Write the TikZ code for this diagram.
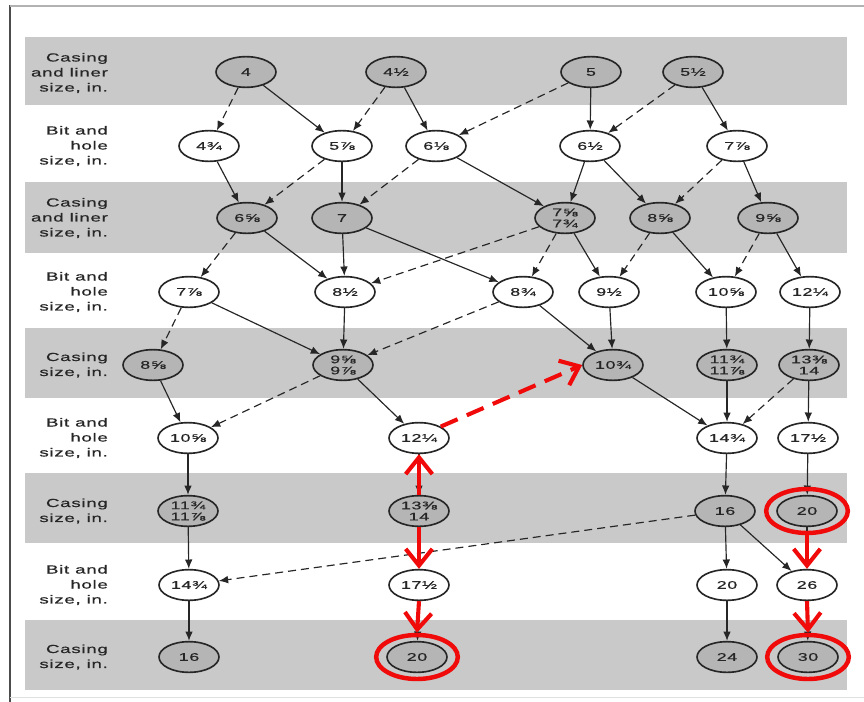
\documentclass[tikz,border=0pt]{standalone}
\usepackage{fontspec}
\setmainfont{Liberation Sans}
\newfontfamily\widefont[FakeStretch=1.6,LetterSpace=6,FakeBold=0.6]{Liberation Sans}
\usepackage{tikz}
\usetikzlibrary{arrows.meta,shapes.geometric}
\definecolor{bandgrey}{HTML}{C9C9C9}
\definecolor{nodegrey}{HTML}{B5B5B5}
\definecolor{inkgrey}{HTML}{262626}
\definecolor{markred}{HTML}{F00A0A}
\tikzset{
  sizebox/.style={ellipse,draw=inkgrey,line width=1.4pt,minimum width=1.8cm,minimum height=0.92cm,
    inner sep=0pt,align=center,text=inkgrey,font=\widefont\fontsize{9.5}{9.5}\selectfont},
  casing/.style={sizebox,fill=nodegrey},
  bit/.style={sizebox,fill=white},
  rowlab/.style={anchor=east,align=right,text=inkgrey,font=\widefont\fontsize{10}{12.8}\selectfont},
  fitline/.style={draw=inkgrey,line width=1pt,-{Latex[length=2.8mm,width=2.3mm]}},
  tightline/.style={fitline,dash pattern=on 2.4mm off 1.5mm},
  redpath/.style={draw=markred,line width=3.5pt,-{Straight Barb[length=5mm,width=8mm]}},
  redring/.style={ellipse,draw=markred,line width=3.8pt,minimum width=2.45cm,minimum height=1.32cm,inner sep=0pt}
}

\begin{document}
\begin{tikzpicture}[x=0.03cm,y=-0.03cm]
  \useasboundingbox (0,0) rectangle (864,702);
  % grey bands for the casing rows
  \foreach \t/\b in {37/105,182/253,328/398,473/543,620/690}{
     \fill[bandgrey] (25,\t) rectangle (847,\b);
  }
  \draw[black!70,line width=1.8pt] (10,5) -- (10,702);
  \draw[black!30,line width=1pt] (10,6) -- (864,6);
  \draw[black!12,line width=0.8pt] (10,697) -- (864,697);
  % row labels
  \node[rowlab] (lab1) at (112,73)  {Casing\\and liner\\size, in.};
  \node[rowlab] (lab2) at (112,146) {Bit and\\hole\\size, in.};
  \node[rowlab] (lab3) at (112,218) {Casing\\and liner\\size, in.};
  \node[rowlab] (lab4) at (112,292) {Bit and\\hole\\size, in.};
  \node[rowlab] (lab5) at (112,365) {Casing\\size, in.};
  \node[rowlab] (lab6) at (112,438) {Bit and\\hole\\size, in.};
  \node[rowlab] (lab7) at (112,511) {Casing\\size, in.};
  \node[rowlab] (lab8) at (112,585) {Bit and\\hole\\size, in.};
  \node[rowlab] (lab9) at (112,657) {Casing\\size, in.};
  % sizes, row by row
  \foreach \n/\x/\t in {a1/246/4, a2/396/4½, a3/591/5, a4/693/5½}{
     \node[casing] (\n) at (\x,72) {\t};
  }
  \foreach \n/\x/\t in {b1/209/4¾, b2/342/5⅞, b3/436/6⅛, b4/590/6½, b5/737/7⅞}{
     \node[bit] (\n) at (\x,146) {\t};
  }
  \foreach \n/\x/\t in {c1/247/6⅝, c2/342/7, c3/565/{7⅝\\7¾}, c4/660/8⅝, c5/768/9⅝}{
     \node[casing] (\n) at (\x,218) {\t};
  }
  \foreach \n/\x/\t in {d1/189/7⅞, d2/345/8½, d3/523/8¾, d4/609/9½, d5/726/10⅝, d6/810/12¼}{
     \node[bit] (\n) at (\x,292) {\t};
  }
  \foreach \n/\x/\t in {e1/153/8⅝, e2/343/{9⅝\\9⅞}, e3/613/10¾, e4/727/{11¾\\11⅞}, e5/809/{13⅜\\14}}{
     \node[casing] (\n) at (\x,365) {\t};
  }
  \foreach \n/\x/\t in {f1/188/10⅝, f2/419/12¼, f3/727/14¾, f4/808/17½}{
     \node[bit] (\n) at (\x,438) {\t};
  }
  \foreach \n/\x/\t in {g1/188/{11¾\\11⅞}, g2/419/{13⅜\\14}, g3/725/16, g4/807/20}{
     \node[casing] (\n) at (\x,511) {\t};
  }
  \foreach \n/\x/\t in {h1/189/14¾, h2/419/17½, h3/727/20, h4/807/26}{
     \node[bit] (\n) at (\x,585) {\t};
  }
  \foreach \n/\x/\t in {i1/189/16, i2/417/20, i3/727/24, i4/808/30}{
     \node[casing] (\n) at (\x,657) {\t};
  }
  % normal clearance
  \foreach \s/\e in {a1/b2, a2/b3, a3/b4, a4/b5,
                     b1/c1, b2/c2, b3/c3, b4/c3, b4/c4, b5/c5,
                     c1/d2, c2/d2, c2/d3, c3/d4, c4/d5, c5/d6,
                     d1/e2, d2/e2, d3/e3, d4/e3, d5/e4, d6/e5,
                     e1/f1, e2/f2, e3/f3, e4/f3, e5/f4,
                     f1/g1, f2/g2, f3/g3, f4/g4,
                     g1/h1, g2/h2, g3/h3, g3/h4, g4/h4,
                     h1/i1, h2/i2, h3/i3, h4/i4}{
     \draw[fitline] (\s) -- (\e);
  }
  % tight clearance (dashed)
  \foreach \s/\e in {a1/b1, a2/b2, a3/b3, a4/b4,
                     b2/c1, b3/c2, b5/c4,
                     c1/d1, c3/d2, c3/d3, c4/d4, c5/d5,
                     d1/e1, d3/e2, e2/f1, e5/f3, g3/h1}{
     \draw[tightline] (\s) -- (\e);
  }
  % red marks
  \node[redring] (ring1) at (g4) {};
  \node[redring] (ring2) at (i2) {};
  \node[redring] (ring3) at (i4) {};
  \draw[redpath] (g2.north) -- (f2.south);
  \draw[redpath] (g2.south) -- (h2.north);
  \draw[redpath] (h2.south) -- (ring2.north);
  \draw[redpath] (ring1.south) -- (h4.north);
  \draw[redpath] (h4.south) -- (ring3.north);
  \draw[redpath,dash pattern=on 5.5mm off 3mm] (f2.north east) -- (e3.west);
\end{tikzpicture}
\end{document}
